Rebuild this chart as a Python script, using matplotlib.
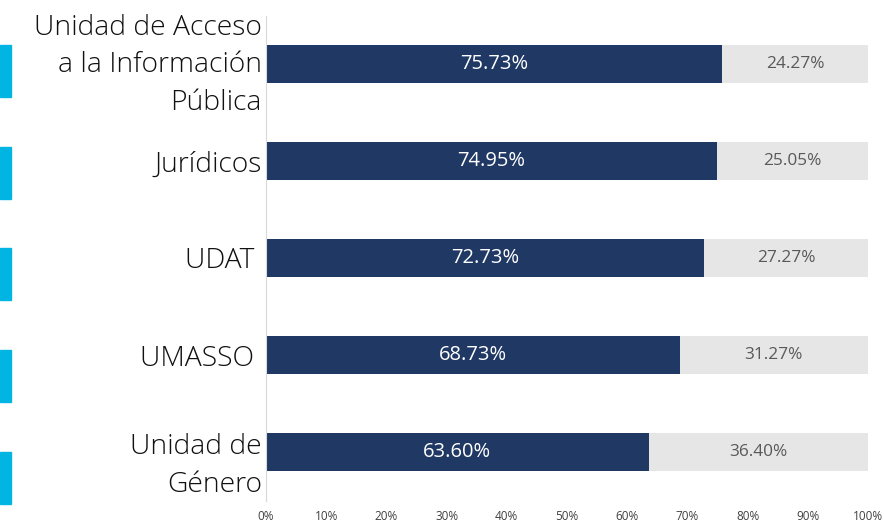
import matplotlib.pyplot as plt
from matplotlib.patches import Rectangle
from matplotlib.ticker import PercentFormatter
from matplotlib.transforms import ScaledTranslation

# Data
categories = ['Unidad de Acceso\na la Información\nPública', 'Jurídicos', 'UDAT ', 'UMASSO ',
              'Unidad de\nGénero']
si = [75.73, 74.95, 72.73, 68.73, 63.60]
no = [24.27, 25.05, 27.27, 31.27, 36.40]

navy = '#203864'
grey = '#E7E6E6'
cyan = '#00B5E2'

plt.rcParams['font.family'] = ['Open Sans', 'DejaVu Sans']

fig = plt.figure(figsize=(8.84, 5.27), dpi=100)
ax = fig.add_axes([266 / 884, 1 - 500.5 / 527, 602 / 884, 485 / 527])

y = list(range(len(categories)))
ax.barh(y, si, height=0.39, color=navy)
ax.barh(y, no, left=si, height=0.39, color=grey)

for i in y:
    ax.text(si[i] / 2, i, f'{si[i]:.2f}%', ha='center', va='center',
            color='white', fontsize=14.5)
    ax.text(si[i] + no[i] / 2, i, f'{no[i]:.2f}%', ha='center', va='center',
            color='#595959', fontsize=12.4)

ax.set_xlim(0, 100)
ax.set_ylim(len(categories) - 0.5, -0.5)
ax.set_xticks(range(0, 101, 10))
ax.xaxis.set_major_formatter(PercentFormatter(decimals=0))
ax.tick_params(axis='x', length=0, labelsize=8.5, labelcolor='#404040', pad=7)
ax.set_yticks(y)
ax.set_yticklabels(categories, fontsize=20.3, color='#111111', linespacing=1.45,
                   fontweight='light')
ax.tick_params(axis='y', length=0, pad=3)
# nudge the multi-line labels to where they sit in the original
labels = ax.get_yticklabels()
for lbl, dy in [(labels[0], 0.07), (labels[-1], -0.06)]:
    lbl.set_transform(lbl.get_transform() + ScaledTranslation(0, dy, fig.dpi_scale_trans))

for s in ['top', 'right', 'bottom']:
    ax.spines[s].set_visible(False)
ax.spines['left'].set_color('#D9D9D9')

# cyan side markers
for top in [45, 147, 248, 350, 452]:
    fig.patches.append(Rectangle((0, 1 - (top + 52) / 527), 11 / 884, 52 / 527,
                                 transform=fig.transFigure, color=cyan))

fig.savefig('out.png', dpi=100)
